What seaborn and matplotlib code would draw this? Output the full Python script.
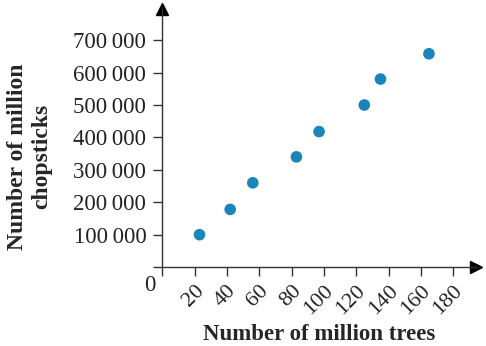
import matplotlib
matplotlib.use("Agg")
import seaborn as sns
import matplotlib.pyplot as plt
import pandas as pd

# dados
arvores = [23, 42, 56, 83, 97, 125, 135, 165]
hashis = [100000, 178000, 260000, 340000, 418000, 500000, 580000, 658000]
x_ticks = [0, 20, 40, 60, 80, 100, 120, 140, 160, 180]
y_ticks = [0, 100000, 200000, 300000, 400000, 500000, 600000, 700000]

df = pd.DataFrame({"arvores": arvores, "hashis": hashis})

sns.set_style("white")
plt.rcParams["font.family"] = ["Liberation Serif", "DejaVu Serif"]

fig = plt.figure(figsize=(4.86, 3.46), dpi=100)
ax = fig.add_axes([0.334, 0.228, 0.645, 0.745])

sns.scatterplot(x="arvores", y="hashis", data=df, color="#1a85b8", s=70,
                edgecolor="none", ax=ax, clip_on=False)

ax.set_xlim(0, 194)
ax.set_ylim(0, 795000)

cor_eixo = "#333333"
for lado in ["top", "right"]:
    ax.spines[lado].set_visible(False)
for lado in ["left", "bottom"]:
    ax.spines[lado].set_color(cor_eixo)
    ax.spines[lado].set_linewidth(1.0)

# setas nos eixos
ax.plot(1, 0, ">", color="black", markersize=8, transform=ax.get_yaxis_transform(), clip_on=False)
ax.plot(0, 1, "^", color="black", markersize=8, transform=ax.get_xaxis_transform(), clip_on=False)

ax.set_xticks(x_ticks)
ax.set_xticklabels([""] + [str(v) for v in x_ticks[1:]], rotation=45, ha="right",
                   rotation_mode="anchor", fontsize=16)
ax.set_yticks(y_ticks)
ax.set_yticklabels([""] + [f"{v // 1000}\u2009000" for v in y_ticks[1:]], fontsize=16.5)
ax.tick_params(axis="both", direction="out", length=6.5, width=1.0, color=cor_eixo,
               labelcolor="#222222", left=True, bottom=True)
ax.tick_params(axis="x", pad=4)
ax.tick_params(axis="y", pad=5)

ax.text(-4, -25000, "0", fontsize=16.5, color="#222222", ha="right", va="top")

ax.set_xlabel("Number of million trees", fontsize=16.5, fontweight="bold", labelpad=4)
ax.set_ylabel("Number of million\nchopsticks", fontsize=17, fontweight="bold")
ax.yaxis.set_label_coords(-0.35, 0.43)

fig.savefig("out.png", dpi=100)
